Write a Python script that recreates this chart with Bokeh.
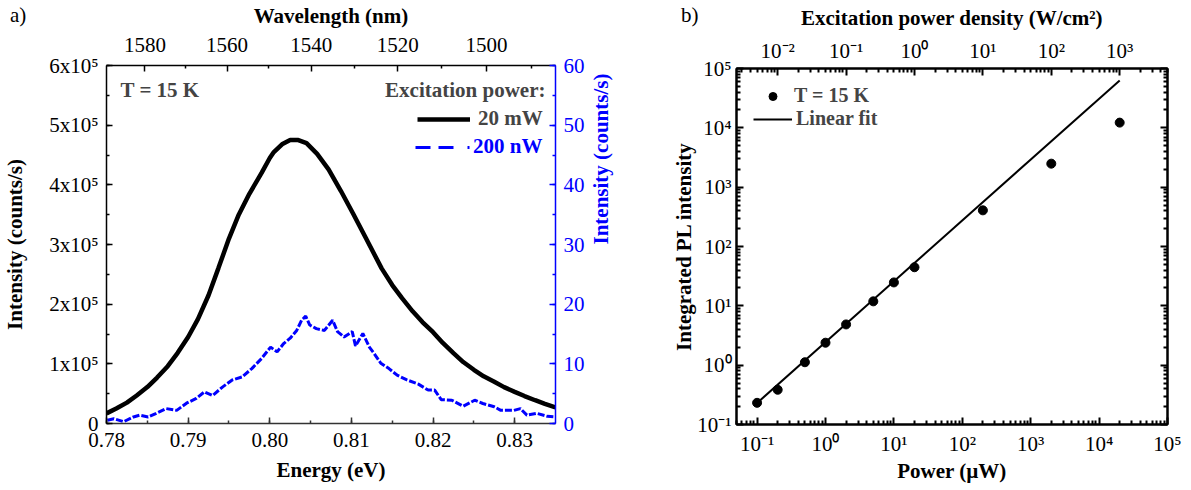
import math
from bokeh.plotting import figure
from bokeh.layouts import row, column
from bokeh.models import (Range1d, LinearAxis, LogAxis, LogScale, FixedTicker,
                          SingleIntervalTicker, CustomJSTickFormatter,
                          PrintfTickFormatter, Label, Legend, LegendItem, Div)
from bokeh.core.properties import value
from bokeh.embed import file_html
from bokeh.resources import INLINE

# ---------------- Panel a data ----------------
energy_20mW_eV = [0.7800, 0.7812, 0.7825, 0.7837, 0.7850, 0.7862, 0.7875, 0.7887,
                  0.7900, 0.7912, 0.7925, 0.7937, 0.7950, 0.7962, 0.7975, 0.7990,
                  0.8000, 0.8005, 0.8015, 0.8025, 0.8035, 0.8045, 0.8058, 0.8072,
                  0.8087, 0.8102, 0.8118, 0.8137, 0.8150, 0.8162, 0.8175, 0.8187,
                  0.8200, 0.8212, 0.8225, 0.8237, 0.8250, 0.8262, 0.8275, 0.8287,
                  0.8300, 0.8312, 0.8325, 0.8337, 0.8350]
intensity_20mW = [17000, 25000, 35000, 47000, 61000, 77000, 96000, 118000,
                  145000, 175000, 215000, 260000, 310000, 350000, 385000, 420000,
                  445000, 455000, 468000, 475000, 475000, 470000, 452000, 426000,
                  390000, 352000, 310000, 260000, 232000, 210000, 188000, 170000,
                  153000, 135000, 118000, 103000, 90000, 79000, 70000, 61000,
                  53000, 46000, 39000, 33000, 27000]

energy_200nW_eV = [0.7801, 0.7809, 0.7821, 0.7833, 0.7841, 0.7851, 0.7861, 0.7873,
                   0.7886, 0.7898, 0.7910, 0.7920, 0.7930, 0.7942, 0.7954, 0.7966,
                   0.7978, 0.7990, 0.8001, 0.8009, 0.8017, 0.8025, 0.8033, 0.8039,
                   0.8044, 0.8049, 0.8057, 0.8067, 0.8077, 0.8083, 0.8091, 0.8101,
                   0.8105, 0.8114, 0.8122, 0.8128, 0.8136, 0.8146, 0.8156, 0.8168,
                   0.8182, 0.8194, 0.8202, 0.8210, 0.8223, 0.8237, 0.8251, 0.8261,
                   0.8275, 0.8283, 0.8299, 0.8307, 0.8315, 0.8327, 0.8340, 0.8350]
intensity_200nW = [0.55, 0.8, 0.3, 1.1, 1.4, 1.1, 1.7, 2.5,
                   2.2, 3.4, 4.2, 5.3, 4.7, 6.1, 7.3, 7.8,
                   9.2, 10.9, 12.8, 12.0, 13.4, 14.3, 15.6, 17.3,
                   18.0, 16.5, 15.9, 15.6, 17.3, 15.4, 14.5, 15.4,
                   13.0, 15.1, 12.8, 11.7, 10.1, 9.2, 8.1, 7.3,
                   6.6, 5.6, 5.6, 4.0, 3.9, 2.9, 3.9, 3.35,
                   2.8, 2.2, 2.2, 2.5, 1.4, 1.7, 1.2, 1.1]

energy_range_eV = [0.78, 0.835]
intensity_range = [0, 600000]
low_power_range = [0, 60]
wavelength_ticks_nm = [1580, 1560, 1540, 1520, 1500]
wavelength_minor_nm = [1590, 1570, 1550, 1530, 1510, 1490]
HC_EV_NM = 1239.84

# ---------------- Panel b data ----------------
power_uW = [0.1, 0.2, 0.5, 1, 2, 5, 10, 20, 200, 2000, 20000]
pl_intensity = [0.232, 0.385, 1.12, 2.39, 4.86, 11.9, 24.8, 44.7, 407, 2490, 12240]
fit_power_uW = [0.1, 20000]
fit_intensity = [0.23, 63000]
power_range_uW = [0.05, 1e5]
pl_range = [0.1, 1e5]
DENSITY_PER_UW = 0.05  # W/cm^2 per uW

FONT = "Liberation Serif"
BLUE = "#0000ff"

# layout (pixels)
A_W, A_H = 656, 490
A_LEFT, A_RIGHT, A_TOP, A_BOTTOM = 101, 101, 65, 67
B_W, B_H = 535, 490
B_LEFT, B_RIGHT, B_TOP, B_BOTTOM = 80, 24, 68, 66

SUP_JS = """
const sup = {"-": "\u207b", "0": "\u2070", "1": "\u00b9", "2": "\u00b2", "3": "\u00b3",
             "4": "\u2074", "5": "\u2075", "6": "\u2076", "7": "\u2077", "8": "\u2078", "9": "\u2079"};
const e = Math.round(Math.log10(tick));
let s = "";
for (const c of String(e)) { s += sup[c]; }
return "10" + s;
"""


def style_axis(ax, color="black", size="21px", lw=1.5, tin=6, mtin=3):
    ax.axis_label_text_font = FONT
    ax.axis_label_text_font_style = "bold"
    ax.axis_label_text_font_size = size
    ax.axis_label_text_color = color
    ax.major_label_text_font = FONT
    ax.major_label_text_font_size = size
    ax.major_label_text_color = color
    ax.axis_line_color = color
    ax.axis_line_width = lw
    ax.major_tick_line_color = color
    ax.minor_tick_line_color = color
    ax.major_tick_line_width = lw
    ax.minor_tick_line_width = lw
    ax.major_tick_in = tin
    ax.major_tick_out = 0
    ax.minor_tick_in = mtin
    ax.minor_tick_out = 0


# ================= Panel a =================
pa = figure(width=A_W, height=A_H,
            x_range=Range1d(*energy_range_eV), y_range=Range1d(*intensity_range),
            output_backend="svg", toolbar_location=None,
            min_border_left=A_LEFT, min_border_right=A_RIGHT,
            min_border_top=A_TOP, min_border_bottom=A_BOTTOM)
pa.extra_y_ranges = {"low": Range1d(*low_power_range)}
pa.outline_line_color = None
pa.xgrid.visible = False
pa.ygrid.visible = False
pa.border_fill_alpha = 0

xa = pa.xaxis[0]
xa.ticker = SingleIntervalTicker(interval=0.01, num_minor_ticks=2)
xa.formatter = PrintfTickFormatter(format="%.2f")
xa.axis_label = "Energy (eV)"
style_axis(xa, color="#333333")
xa.major_label_text_color = "black"
xa.axis_label_text_color = "black"
xa.major_label_standoff = 9
xa.axis_label_standoff = 8

ya = pa.yaxis[0]
ya.ticker = SingleIntervalTicker(interval=100000, num_minor_ticks=2)
ya.formatter = CustomJSTickFormatter(code="""
if (tick == 0) { return "0"; }
return Math.round(tick / 100000) + "x10\u2075";
""")
ya.axis_label = "Intensity (counts/s)"
style_axis(ya)
ya.major_label_standoff = 8
ya.axis_label_standoff = 19

ra = LinearAxis(y_range_name="low", ticker=SingleIntervalTicker(interval=10, num_minor_ticks=2),
                axis_label="Intensity (counts/s)")
style_axis(ra, color=BLUE)
ra.major_label_standoff = 8
ra.axis_label_standoff = 13
if "axis_label_orientation" in ra.properties():
    ra.axis_label_orientation = math.pi / 2
pa.add_layout(ra, "right")

ta = LinearAxis(ticker=FixedTicker(ticks=[HC_EV_NM / w for w in wavelength_ticks_nm],
                                   minor_ticks=[HC_EV_NM / w for w in wavelength_minor_nm]),
                formatter=CustomJSTickFormatter(args=dict(hc=HC_EV_NM),
                                                code="return String(Math.round(hc / tick));"),
                axis_label="Wavelength (nm)")
style_axis(ta)
ta.major_label_standoff = 14
ta.axis_label_standoff = 7
pa.add_layout(ta, "above")

r_blue = pa.line(energy_200nW_eV, intensity_200nW, y_range_name="low",
                 line_color=BLUE, line_width=3, line_dash="7 2")
r_black = pa.line(energy_20mW_eV, intensity_20mW, line_color="black", line_width=4.5)
# hidden copy of the 200 nW series, used only for its legend key style
r_blue_key = pa.line(energy_200nW_eV, intensity_200nW, y_range_name="low",
                     line_color=BLUE, line_width=3, line_dash="15 8 15 14 2 8", visible=False)

leg_common = dict(padding=0, margin=0, spacing=0, background_fill_alpha=0, border_line_alpha=0,
                  inactive_fill_alpha=0,
                  label_text_font=FONT, label_text_font_style="bold", label_text_font_size="21px",
                  glyph_height=20, label_height=20)
pa.add_layout(Legend(items=[LegendItem(label=value("20 mW"), renderers=[r_black])],
                     location=(311, 292), glyph_width=53, label_standoff=8, **leg_common))
pa.add_layout(Legend(items=[LegendItem(label=value("200 nW"), renderers=[r_blue_key])],
                     location=(309, 264), glyph_width=55, label_standoff=3,
                     label_text_color=BLUE, **leg_common))

lab_common = dict(x_units="screen", y_units="screen", text_font=FONT,
                  text_font_size="21px", text_baseline="middle")
pa.add_layout(Label(x=14, y=334, text="T = 15 K", text_font_style="bold", text_align="left", **lab_common))
pa.add_layout(Label(x=439, y=334, text="Excitation power:", text_font_style="bold", text_align="right", **lab_common))

# ================= Panel b =================
pb = figure(width=B_W, height=B_H, x_axis_type="log", y_axis_type="log",
            x_range=Range1d(*power_range_uW), y_range=Range1d(*pl_range),
            output_backend="svg", toolbar_location=None,
            min_border_left=B_LEFT, min_border_right=B_RIGHT,
            min_border_top=B_TOP, min_border_bottom=B_BOTTOM)
pb.extra_x_ranges = {"dens": Range1d(power_range_uW[0] * DENSITY_PER_UW,
                                     power_range_uW[1] * DENSITY_PER_UW)}
pb.extra_x_scales = {"dens": LogScale()}
pb.outline_line_color = "black"
pb.outline_line_width = 2
pb.xgrid.visible = False
pb.ygrid.visible = False
pb.border_fill_alpha = 0

power_decades = [10.0 ** k for k in range(-1, 6)]
power_minor = [m * 10.0 ** k for k in range(-2, 5) for m in range(2, 10)]
dens_decades = [10.0 ** k for k in range(-2, 4)]
dens_minor = [m * 10.0 ** k for k in range(-3, 4) for m in range(2, 10)]
pl_decades = [10.0 ** k for k in range(-1, 6)]
pl_minor = [m * 10.0 ** k for k in range(-1, 5) for m in range(2, 10)]

xb = pb.xaxis[0]
xb.ticker = FixedTicker(ticks=power_decades, minor_ticks=power_minor)
xb.formatter = CustomJSTickFormatter(code=SUP_JS)
xb.axis_label = "Power (\u00b5W)"
style_axis(xb, lw=2, tin=7, mtin=4)
xb.major_label_standoff = 7
xb.axis_label_standoff = 0

yb = pb.yaxis[0]
yb.ticker = FixedTicker(ticks=pl_decades, minor_ticks=pl_minor)
yb.formatter = CustomJSTickFormatter(code=SUP_JS)
yb.axis_label = "Integrated PL intensity"
style_axis(yb, lw=2, tin=7, mtin=4)
yb.major_label_standoff = 5
yb.axis_label_standoff = -2

rb_ax = LogAxis(ticker=FixedTicker(ticks=pl_decades, minor_ticks=pl_minor),
                formatter=CustomJSTickFormatter(code='return "";'))
style_axis(rb_ax, lw=2, tin=7, mtin=4)
rb_ax.major_label_standoff = 0
pb.add_layout(rb_ax, "right")

tb = LogAxis(x_range_name="dens", ticker=FixedTicker(ticks=dens_decades, minor_ticks=dens_minor),
             formatter=CustomJSTickFormatter(code=SUP_JS),
             axis_label="Excitation power density (W/cm\u00b2)")
style_axis(tb, lw=2, tin=7, mtin=4)
tb.major_label_standoff = 6
tb.axis_label_standoff = 6
pb.add_layout(tb, "above")

rb_fit = pb.line(fit_power_uW, fit_intensity, line_color="black", line_width=2)
rb_pts = pb.scatter(power_uW, pl_intensity, size=9, color="black")

legb_common = dict(padding=0, margin=0, spacing=0, background_fill_alpha=0, border_line_alpha=0,
                   label_text_font=FONT, label_text_font_style="bold", label_text_font_size="20px",
                   glyph_height=20, label_height=20, glyph_width=39)
pb.add_layout(Legend(items=[LegendItem(label=value("T = 15 K"), renderers=[rb_pts])],
                     location=(17, 317), label_standoff=2, **legb_common))
pb.add_layout(Legend(items=[LegendItem(label=value("Linear fit"), renderers=[rb_fit])],
                     location=(17, 294), label_standoff=4, **legb_common))

# ---- panel tags "a)" / "b)" shown in the (transparent) top-left border of each panel ----
TAG_H = 30


def tag_div(text, left):
    html = ('<span style="font-family:\'Liberation Serif\';font-size:21px;'
            'line-height:30px;color:#000">%s</span>' % text)
    return Div(text=html, width=30, height=TAG_H, margin=(0, 0, -TAG_H, left))


col_a = column(tag_div("a)", 10), pa)
col_b = column(tag_div("b)", 25), pb)

layout = row(col_a, col_b)
open("out.html", "w").write(file_html(layout, INLINE))
